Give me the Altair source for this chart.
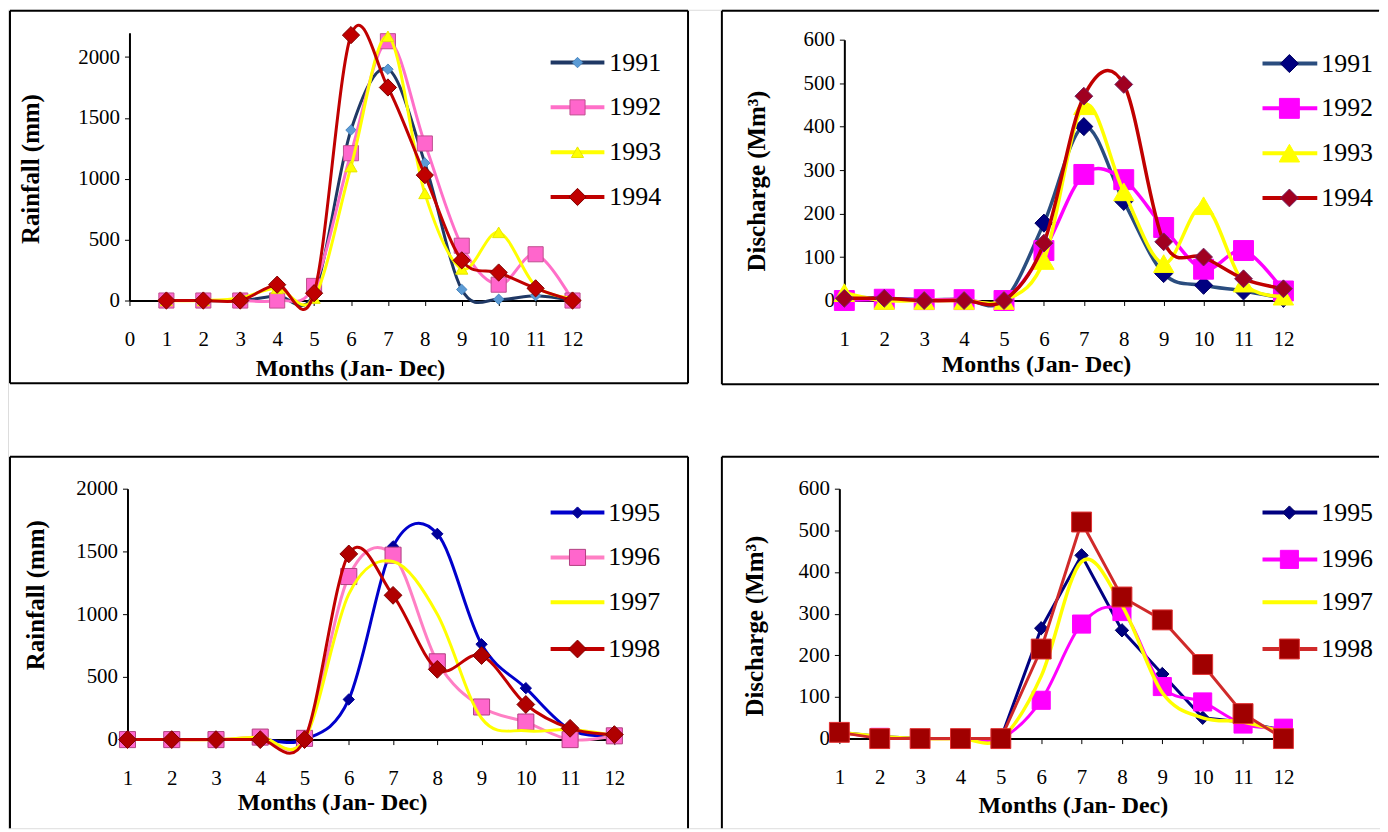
import altair as alt
import pandas as pd

FONT = "Liberation Serif"

months = list(range(1, 13))

# ---------- data ----------
years_a = ["1991", "1992", "1993", "1994"]
years_b = ["1995", "1996", "1997", "1998"]

rain_1991 = [0, 0, 0, 40, 60, 1400, 1900, 1130, 90, 10, 40, 0]
rain_1992 = [0, 0, 0, 0, 120, 1210, 2130, 1290, 450, 130, 380, 0]
rain_1993 = [0, 0, 20, 100, 20, 1100, 2170, 880, 260, 560, 120, 20]
rain_1994 = [0, 0, 0, 130, 60, 2180, 1750, 1030, 330, 230, 100, 0]

dis_1991 = [8, 5, 2, 3, 0, 178, 400, 228, 62, 35, 22, 5]
dis_1992 = [0, 3, 2, 2, 0, 115, 290, 278, 168, 72, 115, 22]
dis_1993 = [18, 0, 0, 0, 0, 92, 448, 250, 85, 218, 40, 10]
dis_1994 = [5, 5, 0, 0, 0, 132, 470, 497, 135, 100, 50, 27]

rain_1995 = [0, 0, 0, 0, 0, 320, 1540, 1640, 760, 410, 80, 30]
rain_1996 = [0, 0, 0, 20, 10, 1300, 1470, 620, 260, 140, 0, 30]
rain_1997 = [0, 0, 0, 20, 0, 1160, 1420, 1000, 170, 70, 80, 30]
rain_1998 = [0, 0, 0, 0, 0, 1480, 1150, 560, 670, 280, 90, 40]

dis_1995 = [15, 5, 0, 0, 0, 265, 440, 260, 155, 50, 40, 20]
dis_1996 = [15, 3, 0, 0, 0, 92, 275, 305, 125, 88, 35, 25]
dis_1997 = [15, 5, 0, 0, 0, 150, 425, 320, 110, 50, 40, 15]
dis_1998 = [15, 0, 0, 0, 0, 215, 520, 340, 285, 178, 60, 0]

ticks_x0 = list(range(0, 13))
ticks_x1 = list(range(1, 13))
ticks_rain = [0, 500, 1000, 1500, 2000]
ticks_dis = [0, 100, 200, 300, 400, 500, 600]

x_title = "Months (Jan- Dec)"
rain_title = "Rainfall (mm)"
dis_title = "Discharge (Mm³)"

W, H = 1378, 822  # whole drawing, one view (autosize none)


# ---------- styles ----------
def st(line, shape=None, fill=None, stroke=None, size=0, interp="cardinal", lw=3):
    return dict(line=line, shape=shape, fill=fill, stroke=stroke, size=size, interp=interp, lw=lw)


styles_p1 = [
    st("#1f3864", "diamond", "#5b9bd5", "#4a86c0", 110),
    st("#ff6fc8", "square", "#ff66cc", "#c0508f", 230),
    st("#ffff00", "triangle-up", "#ffff00", "#e6e600", 150),
    st("#c00000", "diamond", "#c00000", "#800000", 300),
]
styles_p2 = [
    st("#2a4d7f", "diamond", "#000080", "#000060", 330, lw=3.5),
    st("#ff00ff", "square", "#ff00ff", "#ff00ff", 400, lw=3.5),
    st("#ffff00", "triangle-up", "#ffff00", "#ffff00", 420, lw=3.5),
    st("#c00000", "diamond", "#a00020", "#702060", 320, lw=3.5),
]
styles_p3 = [
    st("#0000cc", "diamond", "#000099", "#000099", 130),
    st("#ff7fc4", "square", "#ff66cc", "#b04080", 260),
    st("#ffff00"),
    st("#c00000", "diamond", "#b00000", "#800000", 320),
]
styles_p4 = [
    st("#000080", "diamond", "#000080", "#000060", 180, interp="linear"),
    st("#ff00ff", "square", "#ff00ff", "#ff00ff", 330),
    st("#ffff00", lw=3.5),
    st("#d02a2a", "square", "#a00000", "#e03030", 400, interp="linear"),
]


def text_layer(txt, x, y, size, bold=False, angle=0, align="center"):
    d = pd.DataFrame({"label": [txt]})
    kw = dict(align=align, baseline="middle", font=FONT, fontSize=size,
              color="black", fontWeight="bold" if bold else "normal")
    if angle:
        kw["angle"] = angle
    return alt.Chart(d).mark_text(**kw).encode(
        x=alt.value(x), y=alt.value(y), text="label:N")


def panel(years, values, styles, xdom, xticks, xrange, ydom, yticks, yrange,
          ytitle, ytpos, xtpos, leg_x, leg_y, border):
    xs = alt.Scale(domain=xdom, range=xrange, nice=False, zero=False)
    ys = alt.Scale(domain=ydom, range=yrange, nice=False, zero=False)
    common = dict(grid=False, tickSize=5, tickColor="black", tickWidth=1,
                  domainColor="black", domainWidth=2, labelFont=FONT,
                  labelFontSize=21, labelColor="black", labelFlush=False,
                  labelOverlap=False, format="d", title=None)
    xaxis = alt.Axis(orient="bottom", offset=-(H - yrange[0]), values=xticks,
                     labelPadding=34, labelBaseline="middle", **common)
    yaxis = alt.Axis(orient="left", offset=-xrange[0], values=yticks,
                     labelPadding=5, labelBaseline="middle", **common)
    xenc = alt.X("month:Q", scale=xs, axis=xaxis)
    yenc = alt.Y("value:Q", scale=ys, axis=yaxis)
    layers = []
    for yr, vals, s in zip(years, values, styles):
        df = pd.DataFrame({"month": months, "value": vals, "series": yr})
        layers.append(alt.Chart(df).mark_line(
            color=s["line"], strokeWidth=s["lw"], interpolate=s["interp"]
        ).encode(x=xenc, y=yenc))
        if s["shape"]:
            layers.append(alt.Chart(df).mark_point(
                shape=s["shape"], filled=True, fill=s["fill"], stroke=s["stroke"],
                strokeWidth=1, size=s["size"], opacity=1
            ).encode(x=xenc, y=yenc))
    # axis titles
    layers.append(text_layer(x_title, xtpos[0], xtpos[1], 24, bold=True))
    layers.append(text_layer(ytitle, ytpos[0], ytpos[1], 25, bold=True, angle=270))
    # legend
    lx0, lx1, mx, tx = leg_x
    for yr, s, ly in zip(years, styles, leg_y):
        d = pd.DataFrame({"series": [yr]})
        layers.append(alt.Chart(d).mark_rule(color=s["line"], strokeWidth=4).encode(
            x=alt.value(lx0), x2=alt.value(lx1), y=alt.value(ly)))
        if s["shape"]:
            layers.append(alt.Chart(d).mark_point(
                shape=s["shape"], filled=True, fill=s["fill"], stroke=s["stroke"],
                strokeWidth=1, size=s["size"], opacity=1
            ).encode(x=alt.value(mx), y=alt.value(ly)))
        layers.append(text_layer(yr, tx, ly, 26, align="left"))
    # frame
    d = pd.DataFrame({"series": ["frame"]})
    for b in border:
        if b[0] == "h":
            enc = dict(x=alt.value(b[1]), x2=alt.value(b[2]), y=alt.value(b[3]))
        else:
            enc = dict(x=alt.value(b[1]), y=alt.value(b[2]), y2=alt.value(b[3]))
        layers.append(alt.Chart(d).mark_rule(color="black", strokeWidth=2).encode(**enc))
    return alt.layer(*layers)


p1 = panel(years_a, [rain_1991, rain_1992, rain_1993, rain_1994], styles_p1,
           [0, 12], ticks_x0, [122, 567], [0, 2200], ticks_rain, [292, 23],
           rain_title, (23, 160), (344, 361),
           (545, 599, 572, 604), [53, 98, 143, 188],
           [("h", 2, 683, 1), ("h", 2, 683, 375), ("v", 2, 1, 375), ("v", 683, 1, 375)])

p2 = panel(years_a, [dis_1991, dis_1992, dis_1993, dis_1994], styles_p2,
           [1, 12], ticks_x1, [840, 1281], [0, 600], ticks_dis, [292, 30],
           dis_title, (752, 172), (1033, 357),
           (1260, 1315, 1287, 1319), [54, 99, 144, 189],
           [("h", 717, 1377, 1), ("h", 717, 1377, 376), ("v", 717, 1, 376)])

p3 = panel(years_b, [rain_1995, rain_1996, rain_1997, rain_1998], styles_p3,
           [1, 12], ticks_x1, [120, 609], [0, 2000], ticks_rain, [733, 481],
           rain_title, (28, 588), (326, 797),
           (545, 599, 572, 603), [505, 550, 595, 642],
           [("h", 2, 683, 449), ("v", 2, 449, 822), ("v", 683, 449, 822)])

p4 = panel(years_b, [dis_1995, dis_1996, dis_1997, dis_1998], styles_p4,
           [1, 12], ticks_x1, [835, 1281], [0, 600], ticks_dis, [732, 481],
           dis_title, (750, 619), (1070, 800),
           (1260, 1315, 1287, 1319), [505, 552, 595, 642],
           [("h", 717, 1377, 449), ("v", 717, 449, 822)])

chart = alt.layer(p1, p2, p3, p4).resolve_scale(
    x="independent", y="independent"
).properties(
    width=W, height=H, padding=0,
    autosize=alt.AutoSizeParams(type="none"),
).configure_view(strokeOpacity=0).configure(background="white")

chart.save("out.html", embed_options={"renderer": "svg", "actions": False})
